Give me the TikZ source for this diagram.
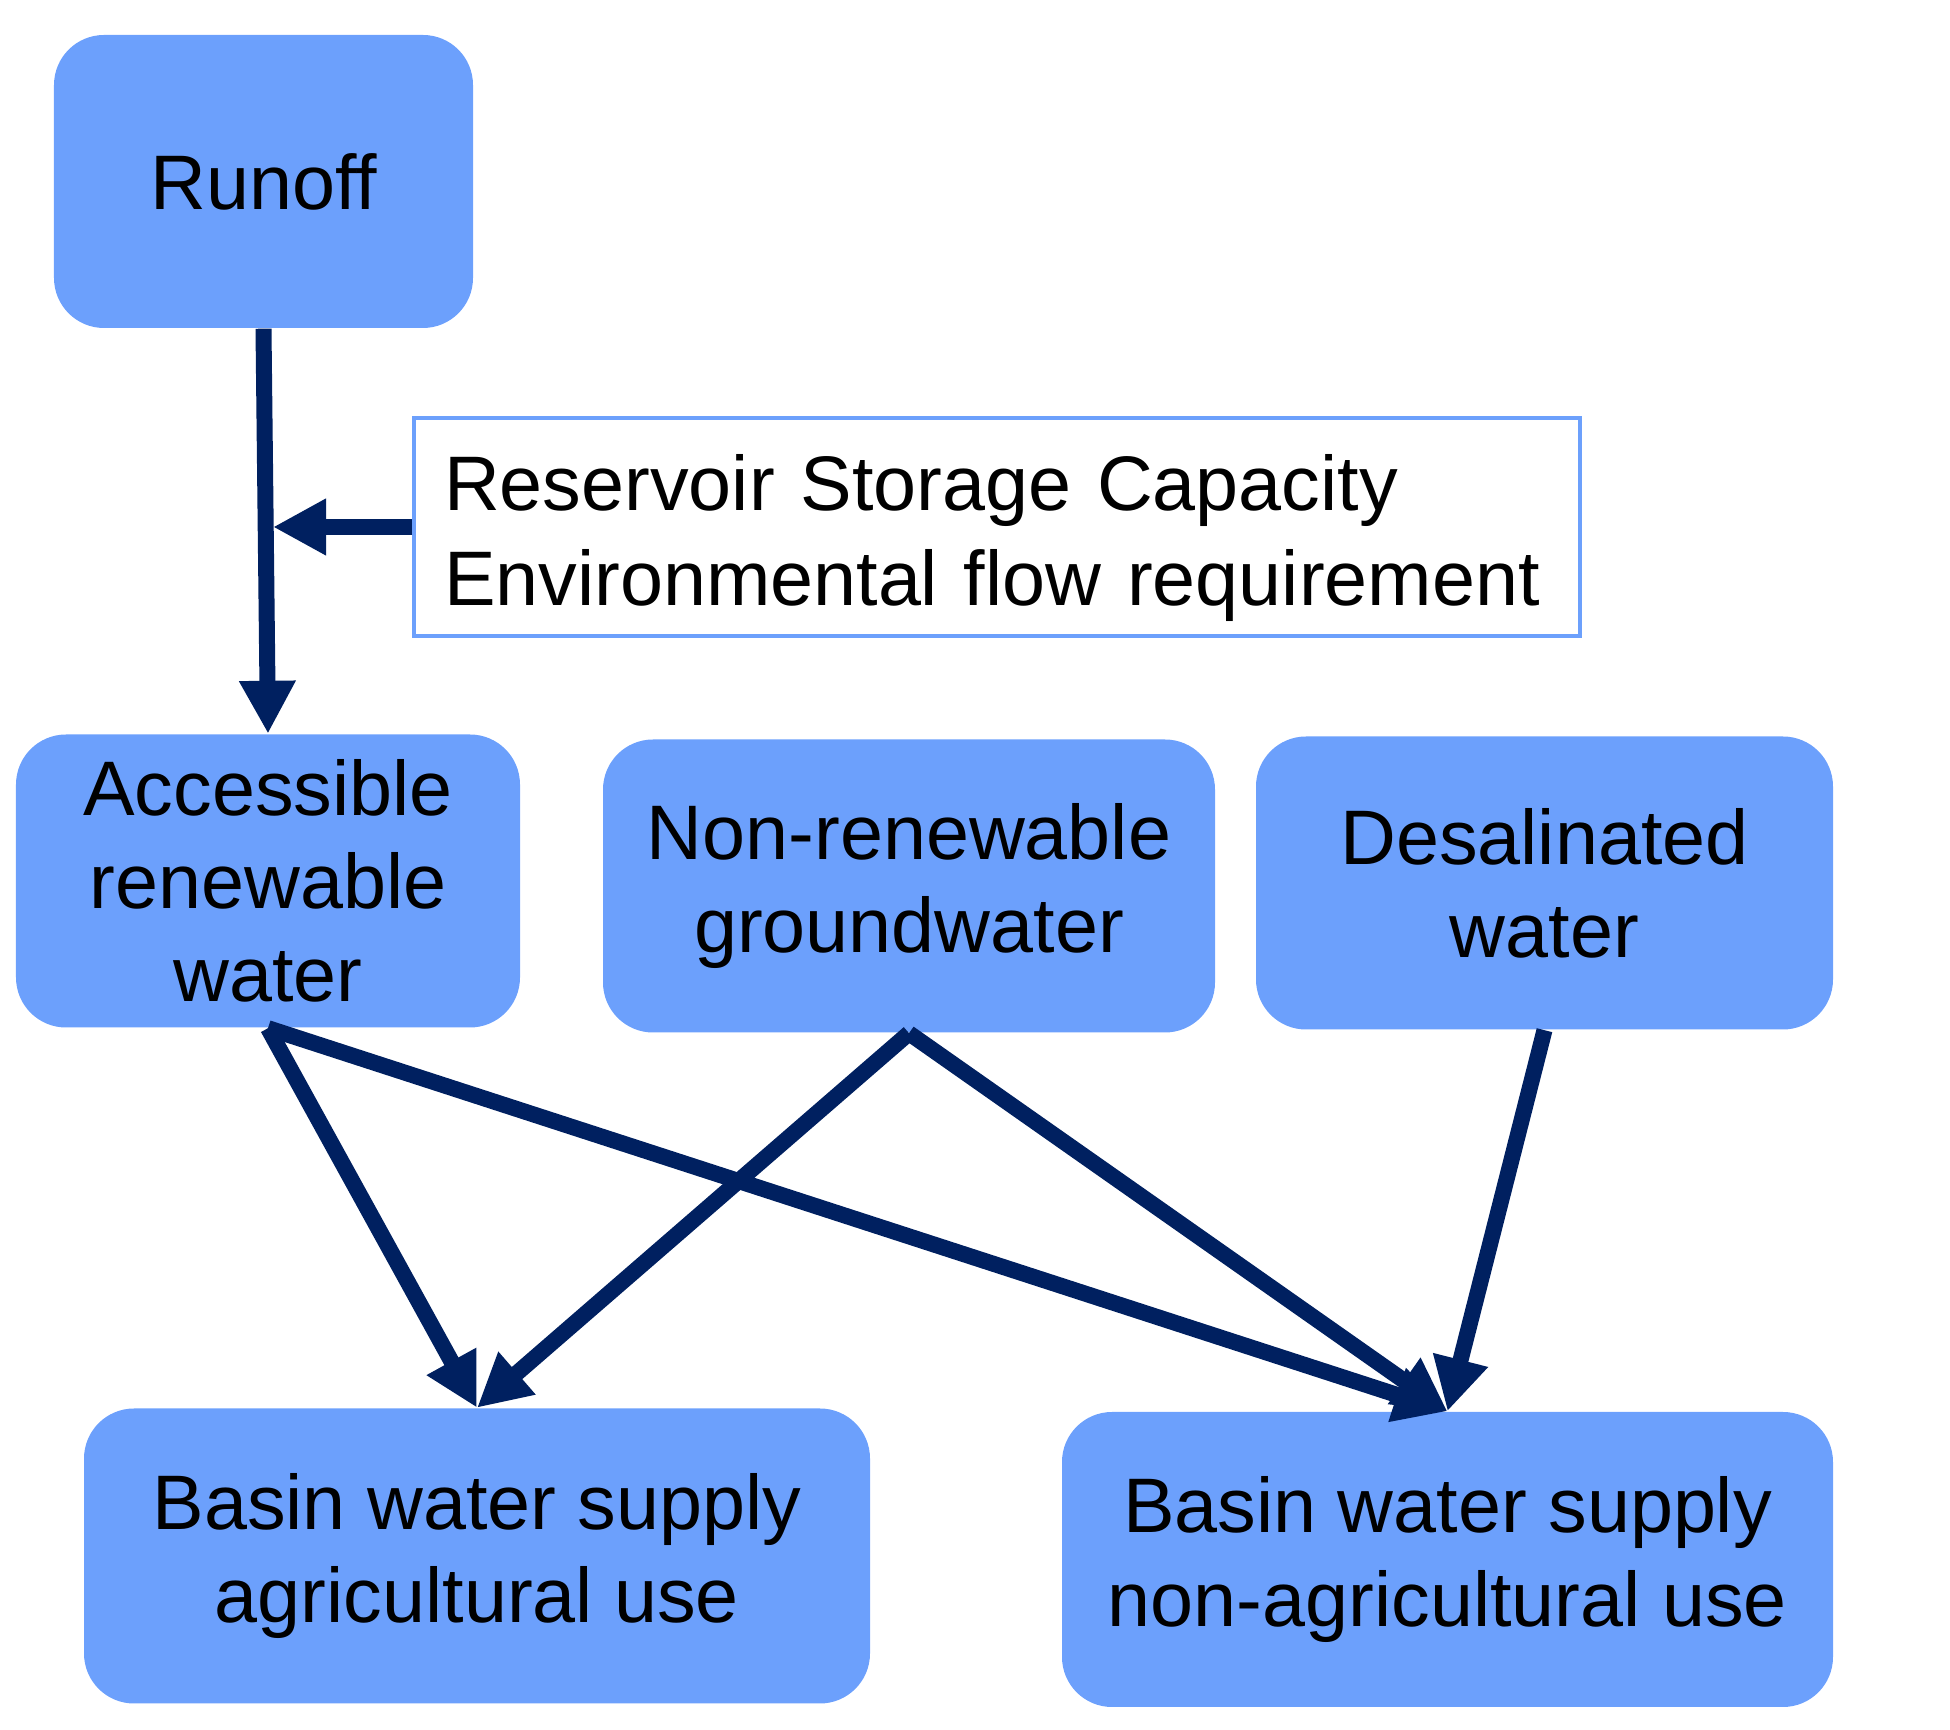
\documentclass[tikz,border=0pt]{standalone}
\usepackage{fontspec}
\setmainfont{Liberation Sans}
\usetikzlibrary{arrows.meta,calc}
\definecolor{boxblue}{RGB}{108,160,252}
\definecolor{navy}{RGB}{0,32,96}
\begin{document}
\begin{tikzpicture}[>={Triangle[length=5.3mm,width=5.3mm]}, font=\fontsize{22}{26.5}\selectfont, line join=miter, line cap=butt,
	src/.style={fill=boxblue, rounded corners=5mm, align=center, inner sep=0pt, minimum height=2.93cm},
	note/.style={draw=boxblue, line width=0.9pt, fill=white, align=left, inner xsep=3mm, inner ysep=0pt, minimum height=2.18cm, font=\fontsize{22}{27.2}\selectfont},
	flow/.style={->, draw=navy, line width=1.6mm}]
	\useasboundingbox (0,0) rectangle (19.5,-17.3);
	%\draw[color=gray!50,dashed] (0,-17.3) grid (19.5,0);
	% Sources
	\node[src, minimum width=4.19cm] (runoff) at (2.635,-1.815) {Runoff};
	\node[note, text width=11.06cm] (reserv) at (9.97,-5.27) {\rule{0pt}{0.78cm}Reservoir Storage Capacity\\Environmental flow requirement};
	\node[src, minimum width=5.04cm] (acc) at (2.68,-8.81) {Accessible\\renewable\\water};
	\node[src, minimum width=6.12cm] (nonren) at (9.09,-8.86) {Non-renewable\\groundwater};
	\node[src, minimum width=5.77cm] (desal) at (15.445,-8.83) {Desalinated\\water};
	% Uses
	\node[src, minimum width=7.86cm, minimum height=2.95cm] (ag) at (4.77,-15.56) {Basin water supply\\agricultural use};
	\node[src, minimum width=7.71cm, minimum height=2.95cm] (nonag) at (14.475,-15.595) {Basin water supply\\non-agricultural use};
	\coordinate (join) at ($(reserv.west -| acc.north)+(0.05,0)$);
	% Flows
	\draw[flow] (runoff.south)--(acc.north);
	\draw[flow] (reserv.west)--(join);
	\draw[flow] (acc.south)--(ag.north);
	\draw[flow] (acc.south)--(nonag.north);
	\draw[flow] (nonren.south)--(ag.north);
	\draw[flow] (nonren.south)--(nonag.north);
	\draw[flow] (desal.south)--(nonag.north);
\end{tikzpicture}
\end{document}
